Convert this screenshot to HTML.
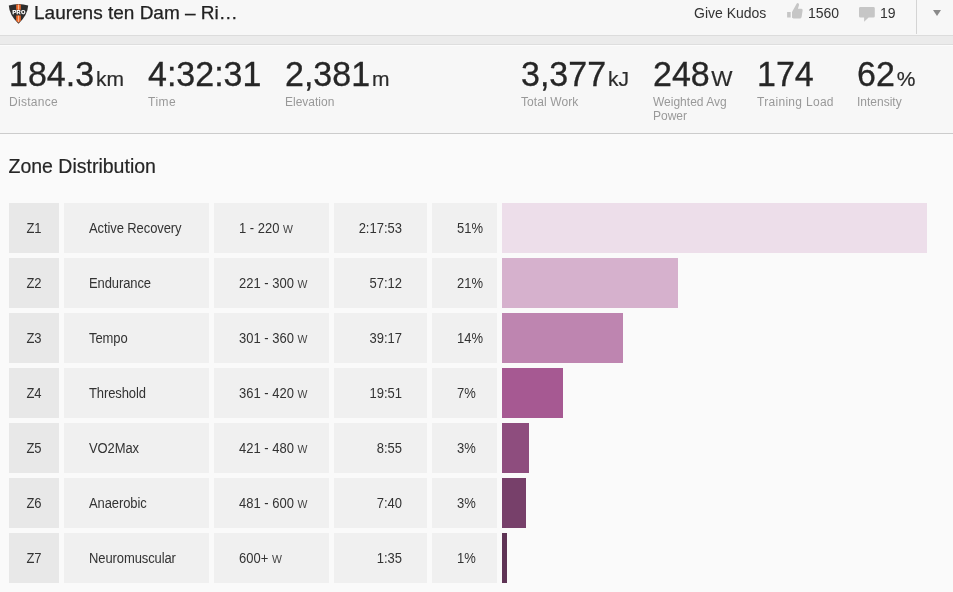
<!DOCTYPE html>
<html><head><meta charset="utf-8">
<style>
html,body{margin:0;padding:0;}
body{width:953px;height:592px;overflow:hidden;background:#fafafa;font-family:"Liberation Sans",Arial,sans-serif;color:#2b2b2b;position:relative;}
.abs{position:absolute;}
#hdr{left:0;top:0;width:953px;height:35px;background:#f7f7f7;border-bottom:1px solid #dcdcdc;box-sizing:content-box;}
#band{left:0;top:36px;width:953px;height:8px;background:#ebebeb;border-bottom:1px solid #dedede;}
#stats{left:0;top:45px;width:953px;height:88px;background:#f7f7f7;border-bottom:1px solid #cccccc;box-shadow:inset 0 1px 0 #fcfcfc;}
#title{left:34px;top:0px;font-size:19px;line-height:26px;color:#222;-webkit-text-stroke:0.25px #222;white-space:nowrap;}
.hd{font-size:14px;line-height:16px;color:#333;white-space:nowrap;top:5px;}
#vdiv{left:916px;top:0;width:1px;height:34px;background:#d4d4d4;}
#tri{left:933px;top:10px;width:0;height:0;border-left:4px solid transparent;border-right:4px solid transparent;border-top:6px solid #8a8a8a;}
.stat{top:55px;white-space:nowrap;}
.stat .num{font-size:34px;line-height:38px;color:#262626;display:inline-block;transform:translateY(-0.4px) scaleY(1.02);transform-origin:50% 80%;-webkit-text-stroke:0.3px #262626;}
.stat .u{font-size:21px;margin-left:2px;-webkit-text-stroke:0.2px #2b2b2b;}
.lbl{font-size:12px;line-height:14px;color:#999;white-space:nowrap;}
#zt{left:8.5px;top:154px;font-size:19.5px;line-height:24px;color:#262626;-webkit-text-stroke:0.2px #262626;}
.c{position:absolute;height:50px;background:#f0f0f0;font-size:13px;line-height:50px;color:#333;white-space:nowrap;}
.z{left:9px;width:50px;background:#e8e8e8;text-align:center;}
.n{left:64px;width:145px;}
.n span{margin-left:25px;letter-spacing:-0.1px;}
.c span{display:inline-block;transform:translateY(0.6px) scaleY(1.08);}
.r{left:214px;width:115px;}
.r span{margin-left:25px;}
.t{left:334px;width:93px;}
.t span{position:absolute;right:25px;}
.p{left:432px;width:65px;}
.p span{margin-left:25px;}
.b{position:absolute;left:502px;height:50px;}
.w{font-size:10.5px;color:#444;font-style:normal;}
</style></head><body>
<div id="hdr" class="abs"></div>
<div id="band" class="abs"></div>
<div id="stats" class="abs"></div>

<svg class="abs" style="left:8px;top:3px" width="22" height="22" viewBox="0 0 22 22">
 <path d="M0.8 2.6 Q10.5 -0.6 20.2 2.6 Q19.6 12.5 10.5 20.8 Q1.4 12.5 0.8 2.6Z" fill="#2d2d2d"/>
 <path d="M8.2 1.6h4.6v5.2h-4.6z M8.2 12.6h4.6v5.2l-2.3 2l-2.3-2z" fill="#ee6a2c"/>
 <path d="M10.1 1.6h0.8v5.2h-0.8z M10.1 12.6h0.8v6.5h-0.8z" fill="#f8c4a4"/>
 <text x="11.1" y="10.9" font-family="Liberation Sans, sans-serif" font-weight="bold" font-size="5.6" letter-spacing="0.4" fill="#fff" stroke="#fff" stroke-width="0.25" text-anchor="middle">PRO</text>
</svg>
<div id="title" class="abs">Laurens ten Dam – Ri…</div>

<div class="abs hd" style="left:694px;">Give Kudos</div>
<svg class="abs" style="left:786px;top:3px;overflow:visible" width="18" height="17" viewBox="0 0 18 17">
 <path d="M1.1 9h3.6v5.6h-3.6z M6 9 L10.8 0.6 Q11.6 -0.3 12.6 0.4 Q13.3 1.2 12.9 2.5 L11.9 5.7 H15.4 Q16.9 5.9 16.6 7.5 L15.6 14 Q15.2 15.5 13.8 15.6 H7.5 L6 14.8 Z" fill="#c6c6c6"/>
</svg>
<div class="abs hd" style="left:808px;">1560</div>
<svg class="abs" style="left:859px;top:7px" width="17" height="16" viewBox="0 0 17 16">
 <path d="M1.4 0h13a1.4 1.4 0 0 1 1.4 1.4v7.8a1.4 1.4 0 0 1-1.4 1.4H9.6L5.1 14.7V10.6H1.4a1.4 1.4 0 0 1-1.4-1.4V1.4a1.4 1.4 0 0 1 1.4-1.4z" fill="#c6c6c6"/>
</svg>
<div class="abs hd" style="left:880px;">19</div>
<div id="vdiv" class="abs"></div>
<div id="tri" class="abs"></div>

<div class="abs stat" style="left:9px;"><span class="num">184.3</span><span class="u">km</span></div>
<div class="abs lbl" style="left:9px;top:95px;letter-spacing:0.3px;">Distance</div>
<div class="abs stat" style="left:148px;"><span class="num">4:32:31</span></div>
<div class="abs lbl" style="left:148px;top:95px;letter-spacing:0.5px;">Time</div>
<div class="abs stat" style="left:285px;"><span class="num">2,381</span><span class="u">m</span></div>
<div class="abs lbl" style="left:285px;top:95px;">Elevation</div>
<div class="abs stat" style="left:521px;"><span class="num">3,377</span><span class="u">kJ</span></div>
<div class="abs lbl" style="left:521px;top:95px;letter-spacing:0.1px;">Total Work</div>
<div class="abs stat" style="left:653px;"><span class="num">248</span><span class="u" style="font-size:22.5px;margin-left:1.5px">W</span></div>
<div class="abs lbl" style="left:653px;top:95px;">Weighted Avg<br>Power</div>
<div class="abs stat" style="left:757px;"><span class="num">174</span></div>
<div class="abs lbl" style="left:757px;top:95px;letter-spacing:0.3px;">Training Load</div>
<div class="abs stat" style="left:857px;"><span class="num">62</span><span class="u">%</span></div>
<div class="abs lbl" style="left:857px;top:95px;">Intensity</div>

<div id="zt" class="abs">Zone Distribution</div>

<div style="position:absolute;left:0;top:203px;">
<div class="c z"><span>Z1</span></div><div class="c n"><span>Active Recovery</span></div><div class="c r"><span>1 - 220 <i class="w">W</i></span></div><div class="c t"><span>2:17:53</span></div><div class="c p"><span>51%</span></div><div class="b" style="width:425px;background:#eddeea;"></div>
</div>
<div style="position:absolute;left:0;top:258px;">
<div class="c z"><span>Z2</span></div><div class="c n"><span>Endurance</span></div><div class="c r"><span>221 - 300 <i class="w">W</i></span></div><div class="c t"><span>57:12</span></div><div class="c p"><span>21%</span></div><div class="b" style="width:176px;background:#d6b1cd;"></div>
</div>
<div style="position:absolute;left:0;top:313px;">
<div class="c z"><span>Z3</span></div><div class="c n"><span>Tempo</span></div><div class="c r"><span>301 - 360 <i class="w">W</i></span></div><div class="c t"><span>39:17</span></div><div class="c p"><span>14%</span></div><div class="b" style="width:121px;background:#be85b0;"></div>
</div>
<div style="position:absolute;left:0;top:368px;">
<div class="c z"><span>Z4</span></div><div class="c n"><span>Threshold</span></div><div class="c r"><span>361 - 420 <i class="w">W</i></span></div><div class="c t"><span>19:51</span></div><div class="c p"><span>7%</span></div><div class="b" style="width:61px;background:#a65992;"></div>
</div>
<div style="position:absolute;left:0;top:423px;">
<div class="c z"><span>Z5</span></div><div class="c n"><span>VO2Max</span></div><div class="c r"><span>421 - 480 <i class="w">W</i></span></div><div class="c t"><span>8:55</span></div><div class="c p"><span>3%</span></div><div class="b" style="width:27px;background:#8e4d7e;"></div>
</div>
<div style="position:absolute;left:0;top:478px;">
<div class="c z"><span>Z6</span></div><div class="c n"><span>Anaerobic</span></div><div class="c r"><span>481 - 600 <i class="w">W</i></span></div><div class="c t"><span>7:40</span></div><div class="c p"><span>3%</span></div><div class="b" style="width:24px;background:#77406a;"></div>
</div>
<div style="position:absolute;left:0;top:533px;">
<div class="c z"><span>Z7</span></div><div class="c n"><span>Neuromuscular</span></div><div class="c r"><span>600+ <i class="w">W</i></span></div><div class="c t"><span>1:35</span></div><div class="c p"><span>1%</span></div><div class="b" style="width:5px;background:#5f3355;"></div>
</div>
</body></html>
